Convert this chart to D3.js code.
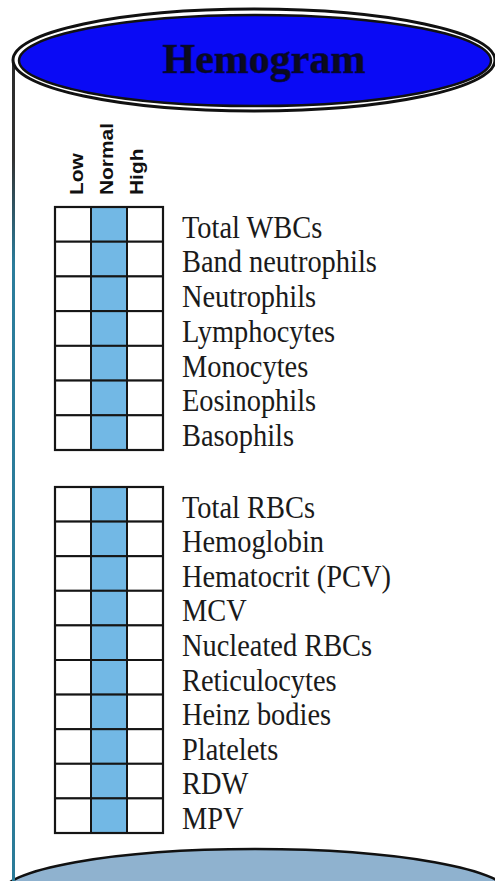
<!DOCTYPE html>
<html>
<head>
<meta charset="utf-8">
<script src="https://cdn.jsdelivr.net/npm/d3@7"></script>
<style>
  body { margin: 0; background: #fff; }
  svg { display: block; }
</style>
</head>
<body>
<div id="chart"></div>
<script>
// chart data
var title = "Hemogram";
var columns = ["Low", "Normal", "High"];
var highlighted = ["Normal"];
var wbcTests = ["Total WBCs", "Band neutrophils", "Neutrophils", "Lymphocytes",
    "Monocytes", "Eosinophils", "Basophils"];
var rbcTests = ["Total RBCs", "Hemoglobin", "Hematocrit (PCV)", "MCV", "Nucleated RBCs",
    "Reticulocytes", "Heinz bodies", "Platelets", "RDW", "MPV"];

var width = 495, height = 881;

var svg = d3.select("#chart")
    .append("svg")
    .attr("width", width)
    .attr("height", height);

// gradient for the left side of the cylinder (dark at top, teal lower down)
var grad = svg.append("defs").append("linearGradient")
    .attr("id", "sideGrad")
    .attr("gradientUnits", "userSpaceOnUse")
    .attr("x1", 0).attr("y1", 60).attr("x2", 0).attr("y2", 881);
grad.append("stop").attr("offset", "0%").attr("stop-color", "#2a2a2a");
grad.append("stop").attr("offset", "12%").attr("stop-color", "#333");
grad.append("stop").attr("offset", "25%").attr("stop-color", "#2b7d9c");
grad.append("stop").attr("offset", "100%").attr("stop-color", "#2a7b98");

// bottom of the cylinder
svg.append("ellipse")
    .attr("cx", 255).attr("cy", 894)
    .attr("rx", 254).attr("ry", 45)
    .style("fill", "#8fb2cf")
    .style("stroke", "#111")
    .style("stroke-width", 2.5);

// left side
svg.append("line")
    .attr("x1", 13.5).attr("x2", 13.5)
    .attr("y1", 60).attr("y2", height)
    .style("stroke", "url(#sideGrad)")
    .style("stroke-width", 3);

// top lid: double outline
svg.append("ellipse")
    .attr("cx", 254).attr("cy", 60)
    .attr("rx", 241).attr("ry", 51)
    .style("fill", "#fff")
    .style("stroke", "#111")
    .style("stroke-width", 3);
svg.append("ellipse")
    .attr("cx", 255).attr("cy", 60.5)
    .attr("rx", 236).attr("ry", 45.5)
    .style("fill", "#0a0af5")
    .style("stroke", "#111")
    .style("stroke-width", 2.5);

svg.append("text")
    .attr("x", 264).attr("y", 73)
    .attr("text-anchor", "middle")
    .style("font-family", "'Liberation Serif', 'Times New Roman', serif")
    .style("font-weight", "bold")
    .style("font-size", "42px")
    .style("fill", "#0b0b1e")
    .style("stroke", "#00005a")
    .style("stroke-width", 0.6)
    .text(title);

// columns shared by both tables
var x = d3.scaleBand().domain(columns).range([55, 163]);
var headerX = d3.scalePoint().domain(columns).range([83, 143]);

svg.selectAll(".colhead")
    .data(columns)
    .enter().append("text")
    .attr("class", "colhead")
    .attr("transform", function(d) { return "translate(" + headerX(d) + ",195) rotate(-90) scale(1.1,1)"; })
    .style("font-family", "'Liberation Sans', Arial, sans-serif")
    .style("font-weight", "bold")
    .style("font-size", "19px")
    .style("fill", "#111")
    .text(function(d) { return d; });

function drawTable(tests, top, bottom) {
    var y = d3.scaleBand().domain(tests).range([top, bottom]);
    var g = svg.append("g");

    var cells = [];
    tests.forEach(function(t) {
        columns.forEach(function(c) {
            cells.push({ test: t, col: c });
        });
    });

    g.selectAll(".cell")
        .data(cells)
        .enter().append("rect")
        .attr("class", "cell")
        .attr("x", function(d) { return x(d.col); })
        .attr("y", function(d) { return y(d.test); })
        .attr("width", x.bandwidth())
        .attr("height", y.bandwidth())
        .style("fill", function(d) { return highlighted.indexOf(d.col) >= 0 ? "#72b8e5" : "#fff"; })
        .style("stroke", "#151515")
        .style("stroke-width", 2);

    // heavier outer frame
    g.append("rect")
        .attr("x", x.range()[0]).attr("y", top)
        .attr("width", x.range()[1] - x.range()[0])
        .attr("height", bottom - top)
        .style("fill", "none")
        .style("stroke", "#151515")
        .style("stroke-width", 2.2);

    g.selectAll(".label")
        .data(tests)
        .enter().append("text")
        .attr("class", "label")
        .attr("transform", function(d) { return "translate(182," + (y(d) + y.bandwidth() - 4) + ") scale(0.98,1.12)"; })
        .style("font-family", "'Liberation Serif', 'Times New Roman', serif")
        .style("font-size", "29px")
        .style("fill", "#1a1a1a")
        .text(function(d) { return d; });
}

drawTable(wbcTests, 207, 450);
drawTable(rbcTests, 487, 833);
</script>
</body>
</html>
